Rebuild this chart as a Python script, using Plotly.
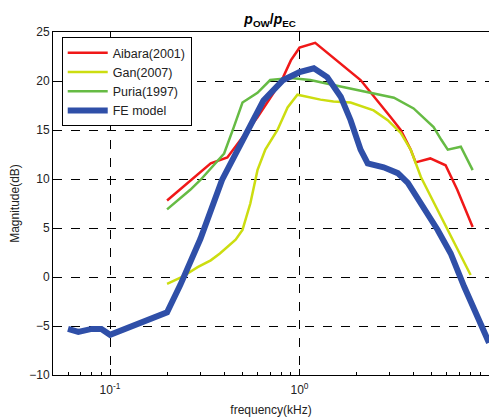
import plotly.graph_objects as go

# FE model
fe_f = [0.06, 0.068, 0.08, 0.09, 0.1, 0.2, 0.235, 0.3, 0.39, 0.53, 0.645, 0.82, 1.0, 1.19, 1.4, 1.65, 1.86, 2.1, 2.29, 2.78, 3.3, 3.73, 4.37, 5.36, 6.28, 7.4, 10.0]
fe_db = [-5.3, -5.6, -5.3, -5.3, -5.9, -3.6, -0.8, 3.9, 9.9, 15.0, 18.0, 20.1, 20.9, 21.3, 20.4, 18.4, 16.0, 13.0, 11.6, 11.2, 10.6, 9.6, 7.5, 4.8, 2.4, -1.0, -6.7]

# Aibara(2001)
ai_f = [0.2, 0.265, 0.34, 0.416, 0.49, 0.6, 0.73, 0.82, 0.9, 1.0, 1.21, 2.1, 3.03, 3.42, 3.86, 4.1, 4.9, 5.9, 6.8, 8.2]
ai_db = [7.8, 9.8, 11.6, 12.2, 14.0, 16.3, 18.8, 20.4, 22.1, 23.4, 23.9, 20.1, 16.3, 15.0, 13.0, 11.7, 12.1, 11.4, 8.9, 5.1]

# Gan(2007)
gan_f = [0.2, 0.24, 0.29, 0.34, 0.38, 0.46, 0.5, 0.55, 0.6, 0.66, 0.765, 0.865, 0.975, 1.29, 1.51, 1.86, 2.46, 2.92, 3.42, 3.86, 4.37, 5.12, 5.6, 8.0]
gan_db = [-0.7, 0.0, 1.0, 1.7, 2.4, 3.8, 4.8, 7.5, 10.9, 13.0, 15.0, 17.3, 18.6, 18.1, 17.9, 17.8, 17.0, 16.0, 14.7, 13.0, 10.2, 7.5, 6.1, 0.2]

# Puria(1997)
pu_f = [0.2, 0.265, 0.3, 0.4, 0.45, 0.5, 0.6, 0.7, 0.9, 1.14, 1.51, 2.29, 3.15, 4.0, 5.1, 5.6, 6.06, 7.1, 8.2]
pu_db = [6.9, 8.9, 9.9, 12.6, 15.3, 17.8, 18.8, 20.1, 20.3, 20.1, 19.6, 18.9, 18.3, 17.2, 15.3, 14.0, 13.0, 13.3, 10.9]

y_ticks = [-10, -5, 0, 5, 10, 15, 20, 25]
x_ticks = [0.1, 1, 10]
x_ticktext = ["10<sup>-1</sup>", "10<sup>0</sup>", "10<sup>1</sup>"]
minor_x = [m * 10 ** k for k in (-2, -1, 0) for m in range(2, 10)]

fig = go.Figure()
fig.add_trace(go.Scatter(x=ai_f, y=ai_db, mode="lines", name="Aibara(2001)",
                         line=dict(color="#f01818", width=2.5)))
fig.add_trace(go.Scatter(x=gan_f, y=gan_db, mode="lines", name="Gan(2007)",
                         line=dict(color="#ccdd10", width=2.5)))
fig.add_trace(go.Scatter(x=pu_f, y=pu_db, mode="lines", name="Puria(1997)",
                         line=dict(color="#66bb44", width=2.5)))
fig.add_trace(go.Scatter(x=fe_f, y=fe_db, mode="lines", name="FE model",
                         line=dict(color="#2f4fa8", width=6)))

font = "Liberation Sans, Arial, sans-serif"
# the page body has an 8px default margin, so the figure is sized to fit inside it
fig.update_layout(
    width=489, height=412,
    margin=dict(l=45, r=8, t=24, b=45),
    paper_bgcolor="white", plot_bgcolor="white",
    font=dict(family=font, size=12, color="#222"),
    title=dict(text="<b><i>p</i><sub>OW</sub>/<i>p</i><sub>EC</sub></b>",
               x=0.536, xanchor="center", y=0.974, yanchor="middle",
               font=dict(size=14, color="black")),
    showlegend=True,
    legend=dict(x=0.02, y=0.985, xanchor="left", yanchor="top",
                bordercolor="black", borderwidth=1, bgcolor="white",
                font=dict(size=12.5, color="#222"),
                itemwidth=40),
)
fig.update_xaxes(
    type="log", range=[-1.301, 1], automargin=False,
    tickvals=x_ticks, ticktext=x_ticktext, ticklabelstandoff=4,
    ticks="inside", ticklen=6, tickcolor="black",
    showline=True, linecolor="black", linewidth=1, mirror=True,
    showgrid=True, gridcolor="black", griddash="dash", gridwidth=1,
    zeroline=False,
    minor=dict(tickvals=minor_x, ticks="inside", ticklen=3, tickcolor="black", showgrid=False),
    title=dict(text="frequency(kHz)", standoff=9, font=dict(size=12)),
)
fig.update_yaxes(
    range=[-10, 25], tickvals=y_ticks, automargin=False,
    ticks="inside", ticklen=6, tickcolor="black",
    showline=True, linecolor="black", linewidth=1, mirror=True,
    showgrid=True, gridcolor="black", griddash="dash", gridwidth=1,
    zeroline=False,
    title=dict(text="Magnitude(dB)", standoff=13, font=dict(size=12)),
)
fig.write_html("out.html")
